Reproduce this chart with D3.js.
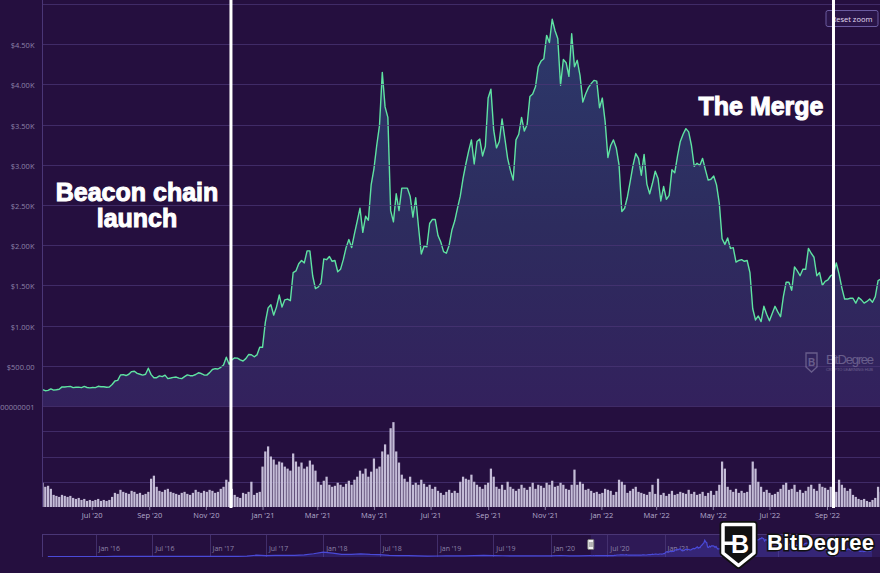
<!DOCTYPE html>
<html><head><meta charset="utf-8">
<script src="https://cdn.jsdelivr.net/npm/d3@7"></script>
<style>
html,body{margin:0;padding:0;background:#250f3f;}
svg{display:block;}
</style></head><body>
<svg id="chart" width="880" height="573"></svg>
<script>
// ---------- DATA ----------
const startDate = "2020-05-09";   // first sample
const stepDays = 3;               // one sample every 3 days
const price = [
 // 2020 May
 205,190,194,213,198,202,208,238,
 // Jun
 237,241,244,229,234,235,229,243,230,226,
 // Jul
 230,228,245,240,240,233,237,267,311,318,
 // Aug
 386,390,379,395,428,433,406,395,384,395,470,
 // Sep
 390,352,352,374,365,384,341,348,356,360,
 // Oct
 346,341,365,387,377,377,392,413,404,386,
 // Nov
 384,415,454,464,460,481,510,607,518,575,
 // Dec
 598,596,573,560,589,640,638,612,635,731,
 // 2021 Jan
 730,1040,1220,1260,1130,1230,1380,1230,1320,1330,1310,
 // Feb
 1660,1680,1770,1810,1780,1930,1930,1620,1460,
 // Mar
 1480,1530,1830,1820,1860,1800,1810,1670,1700,1820,
 // Apr
 1970,2070,1970,2140,2300,2460,2160,2360,2310,2750,
 // May
 2950,3240,3490,4150,3720,3590,2430,2290,2640,2430,2710,
 // Jun
 2710,2710,2610,2350,2590,2230,1890,1990,1980,2270,
 // Jul
 2320,2320,2120,2040,1920,1900,2000,2190,2300,2460,
 // Aug
 2610,2830,3010,3170,3310,3010,3290,3320,3110,3230,
 // Sep
 3830,3940,3430,3210,3290,3570,3330,3080,2930,2810,
 // Oct
 3310,3380,3590,3420,3500,3850,3880,3970,4220,4290,4320,
 // Nov
 4610,4520,4810,4670,4570,3990,4310,4270,4100,4630,
 // Dec
 4220,4300,4110,3780,3880,3960,4010,4050,4040,3710,
 // 2022 Jan
 3830,3540,3090,3240,3310,3210,3000,2420,2460,2600,
 // Feb
 2790,2990,3140,3080,2870,3130,2760,2640,2770,2920,
 // Mar
 2830,2550,2730,2570,2620,2940,2900,3110,3290,3380,
 // Apr
 3450,3410,3240,2980,3020,2990,3080,2940,2810,2820,
 // May
 2860,2750,2520,2080,2010,2090,1960,1970,1790,1810,
 // Jun
 1820,1800,1810,1660,1210,1070,1120,1050,1240,1140,
 // Jul
 1060,1150,1240,1170,1110,1360,1540,1540,1440,1730,1680,
 // Aug
 1620,1700,1700,1960,1900,1850,1620,1660,1500,1550,
 // Sep
 1570,1620,1640,1780,1640,1470,1330,1330,1340,1340,
 // Oct
 1280,1350,1320,1280,1300,1330,1290,1360,1560,1580
];
const volume = [
 // 2020 May
 24,20,21,18,12,11,10,12,
 11,10,11,9,8,9,7,8,6,7,
 6,7,8,6,7,6,7,10,14,13,
 17,15,14,13,16,15,13,14,12,13,15,
 28,31,20,16,15,17,18,15,14,13,
 12,14,15,13,12,14,17,15,14,16,
 15,17,16,14,15,18,20,27,25,18,
 12,10,9,14,13,15,25,12,14,15,
 // 2021
 40,55,60,50,47,42,45,44,40,38,36,
 53,45,40,44,38,40,46,42,36,
 25,22,26,30,22,20,21,24,22,20,
 23,26,22,27,30,36,33,38,30,35,
 48,38,40,55,62,52,78,84,55,44,32,
 28,25,30,22,24,22,27,23,20,22,
 18,20,16,14,12,15,17,14,16,14,
 25,30,28,27,32,25,22,20,18,22,
 24,38,30,20,18,22,17,25,20,18,
 16,18,22,19,17,20,24,18,22,21,19,
 24,22,26,20,21,24,22,18,17,22,
 37,22,25,23,17,18,16,14,15,13,
 // 2022
 14,18,17,16,12,15,27,25,22,14,
 16,18,20,15,14,13,12,15,22,13,
 28,12,14,11,13,16,12,13,15,14,
 13,17,13,15,12,13,15,11,14,16,
 12,16,22,45,38,20,17,15,18,14,
 16,14,15,22,45,38,25,20,15,17,
 14,12,13,15,18,22,24,17,18,22,15,
 17,14,16,20,22,18,16,23,20,19,
 17,20,18,15,27,22,19,16,18,12,
 10,8,7,8,6,5,7,9,20,15
];
// navigator: monthly history before the main window
const navStart = "2015-08-01";
const navMonthly = [
 1.2,0.9,0.6,0.95,0.9,
 1,3.5,11,8,12,14,11,11,12,12,10,8,
 10,12,30,50,90,330,200,300,290,300,400,700,
 1100,850,550,550,650,520,460,300,220,205,160,110,
 125,135,137,165,220,280,250,190,180,180,170,135,
 165,250,160,180
];
const navLabelEnd = "2021-01-01"; // later navigator labels are hidden behind the logo
const priceTicks = [0,500,1000,1500,2000,2500,3000,3500,4000,4500];
const priceTickLabels = ["$0.000000001","$500.00","$1.00K","$1.50K","$2.00K","$2.50K","$3.00K","$3.50K","$4.00K","$4.50K"];
const gridPrices = [0,500,1000,1500,2000,2500,3000,3500,4000,4500,5000];
const volumeGrid = [0,25,50,75,100];
const annotations = [
 {date:"2020-11-28", label:["Beacon chain","launch"]},
 {date:"2022-09-08", label:["The Merge"]}
];

// ---------- SETUP ----------
const svg = d3.select("#chart");
const W = 880, H = 573;
const parse = d3.utcParse("%Y-%m-%d");
const t0 = parse(startDate);
const series = price.map((v,i)=>({date:d3.utcDay.offset(t0, i*stepDays), price:v, volume:volume[i]}));

const x = d3.scaleUtc().domain([Date.UTC(2020,6,1), Date.UTC(2022,8,1)]).range([91.7, 827]);
const xv = x.copy().domain([x.invert(42), x.invert(880)]).range([42, 880]);
const y = d3.scaleLinear().domain([0,5000]).range([406, 4]);
const yVol = d3.scaleLinear().domain([0,100]).range([507, 406]);

const defs = svg.append("defs");
defs.append("clipPath").attr("id","plotClip").append("rect").attr("x",42).attr("y",0).attr("width",838).attr("height",406);
defs.append("clipPath").attr("id","volClip").append("rect").attr("x",42).attr("y",406).attr("width",838).attr("height",102);
const grad = defs.append("linearGradient").attr("id","areaGrad").attr("gradientUnits","userSpaceOnUse")
  .attr("x1",0).attr("x2",0).attr("y1",y(5000)).attr("y2",y(0));
grad.append("stop").attr("offset","0").attr("stop-color","#2c3a6c");
grad.append("stop").attr("offset","0.55").attr("stop-color","#2d2c5e");
grad.append("stop").attr("offset","1").attr("stop-color","#33215d");

svg.append("rect").attr("width",W).attr("height",H).attr("fill","#250f3f");

// area + line
const plot = svg.append("g").attr("clip-path","url(#plotClip)");
plot.append("path").datum(series)
  .attr("d", d3.area().x(d=>xv(d.date)).y0(y(0)).y1(d=>y(d.price)))
  .attr("fill","url(#areaGrad)");

// gridlines (price)
svg.append("g").selectAll("line").data(gridPrices).join("line")
  .attr("x1",42).attr("x2",880).attr("y1",d=>Math.round(y(d))+0.5).attr("y2",d=>Math.round(y(d))+0.5)
  .attr("stroke","#4a3676").attr("stroke-opacity",0.75).attr("stroke-width",1);
// gridlines (volume)
svg.append("g").selectAll("line").data(volumeGrid.slice(1,4)).join("line")
  .attr("x1",42).attr("x2",880).attr("y1",d=>Math.round(yVol(d))+0.5).attr("y2",d=>Math.round(yVol(d))+0.5)
  .attr("stroke","#4a3676").attr("stroke-opacity",0.75).attr("stroke-width",1);

plot.append("path").datum(series)
  .attr("d", d3.line().x(d=>xv(d.date)).y(d=>y(d.price)))
  .attr("fill","none").attr("stroke","#5fe3a2").attr("stroke-width",1.4).attr("stroke-linejoin","round");

// volume bars
const barW = (xv(d3.utcDay.offset(t0,stepDays)) - xv(t0)) * 0.8;
svg.append("g").attr("clip-path","url(#volClip)").selectAll("rect").data(series).join("rect")
  .attr("x",d=>xv(d.date)-barW/2).attr("width",barW)
  .attr("y",d=>yVol(d.volume)).attr("height",d=>yVol(0)-yVol(d.volume))
  .attr("fill","#c4bcd7");

// y axis line
svg.append("line").attr("x1",42.5).attr("x2",42.5).attr("y1",0).attr("y2",507)
  .attr("stroke","#4a3676").attr("stroke-width",1);

// y axis labels
const yAxis = d3.axisLeft(y).tickValues(priceTicks).tickFormat((d,i)=>priceTickLabels[i]).tickSize(0).tickPadding(0);
const gy = svg.append("g").attr("transform","translate(34.5,1)").call(yAxis);
gy.select(".domain").remove();
gy.selectAll("text").attr("fill","#8d83a8").attr("font-size","7.5px").attr("font-family","'Open Sans','Noto Sans',sans-serif");

// x axis
const xAxis = d3.axisBottom(xv).ticks(d3.utcMonth.every(2)).tickFormat(d3.utcFormat("%b '%y")).tickSize(3).tickPadding(3);
const gx = svg.append("g").attr("transform","translate(0,507)").call(xAxis);
gx.select(".domain").remove();
gx.selectAll("line").attr("stroke","#8d83a8");
gx.selectAll("text").attr("fill","#b3aacb").attr("font-size","7.5px").attr("font-family","'Open Sans','Noto Sans',sans-serif");

// ---------- NAVIGATOR ----------
const xNav = d3.scaleUtc().domain([Date.UTC(2016,0,1), Date.UTC(2021,0,1)]).range([95.5, 664.6]);
const xNavV = xNav.copy().domain([xNav.invert(42), xNav.invert(880)]).range([42,880]);
const yNav = d3.scaleLinear().domain([0,5000]).range([556.5, 537]);
const n0 = parse(navStart);
const navSeries = navMonthly.map((v,i)=>({date:d3.utcMonth.offset(n0,i), price:v})).concat(series);

const nav = svg.append("g");
const selX = xNavV(t0);
nav.append("rect").attr("x",selX).attr("y",534).attr("width",880-selX).attr("height",23)
  .attr("fill","#5a4ac0").attr("fill-opacity",0.18);
nav.append("line").attr("x1",42).attr("x2",880).attr("y1",534.5).attr("y2",534.5).attr("stroke","#4a3676");
nav.append("line").attr("x1",42.5).attr("x2",42.5).attr("y1",534).attr("y2",557).attr("stroke","#4a3676");
const navTicks = xNavV.ticks(d3.utcMonth.every(6));
nav.selectAll("line.ng").data(navTicks).join("line").attr("class","ng")
  .attr("x1",d=>Math.round(xNavV(d))+0.5).attr("x2",d=>Math.round(xNavV(d))+0.5).attr("y1",534).attr("y2",557)
  .attr("stroke","#4a3676").attr("stroke-opacity",0.8);
const labelEnd = parse(navLabelEnd);
nav.selectAll("text").data(navTicks.filter(d=>d<=labelEnd)).join("text")
  .attr("x",d=>xNavV(d)+3).attr("y",551)
  .attr("fill","#8d83a8").attr("font-size","7px").attr("font-family","'Open Sans','Noto Sans',sans-serif")
  .text(d3.utcFormat("%b '%y"));
nav.append("path").datum(navSeries)
  .attr("d", d3.area().x(d=>xNavV(d.date)).y0(557).y1(d=>yNav(d.price)))
  .attr("fill","#4b4bd6").attr("fill-opacity",0.25);
nav.append("path").datum(navSeries)
  .attr("d", d3.line().x(d=>xNavV(d.date)).y(d=>yNav(d.price)))
  .attr("fill","none").attr("stroke","#4a4ad8").attr("stroke-width",1.2);
// handle
nav.append("rect").attr("x",selX-3).attr("y",539.5).attr("width",6).attr("height",10).attr("rx",1)
  .attr("fill","#f2f2f2").attr("stroke","#777").attr("stroke-width",1);
nav.append("line").attr("x1",selX-0.8).attr("x2",selX-0.8).attr("y1",542).attr("y2",547).attr("stroke","#777");
nav.append("line").attr("x1",selX+1.2).attr("x2",selX+1.2).attr("y1",542).attr("y2",547).attr("stroke","#777");

// ---------- WATERMARK ----------
const wm = svg.append("g").attr("opacity",0.3);
wm.append("path").attr("d","M806,353 H817 V367 L811.5,372 L806,367 Z").attr("fill","none").attr("stroke","#e6e0f5").attr("stroke-width",1.3);
wm.append("text").attr("x",811.5).attr("y",366).attr("text-anchor","middle").attr("font-size","10px").attr("font-weight","bold")
  .attr("font-family","'Liberation Sans',sans-serif").attr("fill","#e6e0f5").text("B");
wm.append("text").attr("x",826).attr("y",364).attr("font-size","13px").attr("font-family","'Liberation Sans',sans-serif")
  .attr("fill","#e6e0f5").attr("textLength",48).text("BitDegree");
wm.append("text").attr("x",826).attr("y",371).attr("font-size","4px").attr("font-family","'Liberation Sans',sans-serif")
  .attr("fill","#e6e0f5").attr("textLength",47).text("CRYPTO LEARNING HUB");

// ---------- RESET BUTTON ----------
svg.append("rect").attr("x",826).attr("y",10.5).attr("width",52).attr("height",16).attr("rx",2)
  .attr("fill","#2a1549").attr("stroke","#6b5ba0");
svg.append("text").attr("x",852).attr("y",21.5).attr("text-anchor","middle").attr("font-size","7.5px")
  .attr("font-family","'Open Sans','Noto Sans',sans-serif").attr("fill","#e4ddf3").text("Reset zoom");

// ---------- ANNOTATIONS ----------
const ann = svg.append("g");
ann.selectAll("line").data(annotations).join("line")
  .attr("x1",d=>xv(parse(d.date))).attr("x2",d=>xv(parse(d.date))).attr("y1",0).attr("y2",508)
  .attr("stroke","#ffffff").attr("stroke-width",3);
const labelPos = [{cx:137, y:[201,227]},{cx:761, y:[115]}];
annotations.forEach((a,i)=>{
  a.label.forEach((t,j)=>{
    ann.append("text").attr("x",labelPos[i].cx).attr("y",labelPos[i].y[j]).attr("text-anchor","middle")
      .attr("font-size","25px").attr("font-weight","bold").attr("font-family","'Liberation Sans',Arial,sans-serif")
      .attr("fill","#ffffff").attr("stroke","#ffffff").attr("stroke-width",1).text(t);
  });
});

// ---------- LOGO ----------
const logo = svg.append("g");
const shield = "M723,524.5 H754 V553 L738.5,565.5 L723,553 Z";
logo.append("path").attr("d",shield).attr("fill","#111").attr("stroke","#111").attr("stroke-width",7).attr("stroke-linejoin","round");
logo.append("path").attr("d",shield).attr("fill","#111").attr("stroke","#ffffff").attr("stroke-width",3.5).attr("stroke-linejoin","round");
logo.append("rect").attr("x",724).attr("y",541.5).attr("width",9).attr("height",3.5).attr("fill","#fff");
logo.append("text").attr("x",740).attr("y",553).attr("text-anchor","middle").attr("font-size","25px").attr("font-weight","bold")
  .attr("font-family","'Liberation Sans',Arial,sans-serif").attr("fill","#fff").text("B");
logo.append("text").attr("x",767).attr("y",550).attr("font-size","22px").attr("font-weight","bold")
  .attr("font-family","'Liberation Sans',Arial,sans-serif").attr("fill","#fff")
  .attr("stroke","#111").attr("stroke-width",3).attr("paint-order","stroke").attr("textLength",107).text("BitDegree");
</script>
</body></html>
